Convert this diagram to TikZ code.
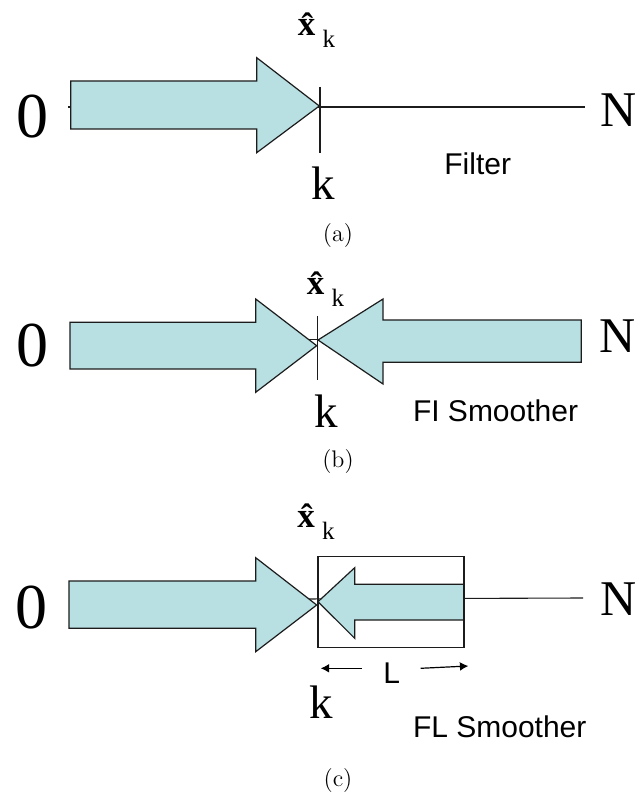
\documentclass[tikz,border=0pt]{standalone}
\usepackage{fontspec}
\newfontfamily\ksserif{Liberation Serif}
\newfontfamily\kssans{Liberation Sans}
\usetikzlibrary{arrows.meta}
\definecolor{ksink}{HTML}{1C1C1C}
\definecolor{ksfill}{HTML}{B8DFE2}
\newcommand{\xhatk}{{\fontsize{17.5}{18}\selectfont\ksserif\bfseries\^x}\hspace{3.6pt}\raisebox{-6pt}{\fontsize{12.5}{13}\selectfont\ksserif k}}
\tikzset{
  ks block/.style={draw=ksink, line width=0.6pt, fill=ksfill, line join=miter},
  ks line/.style={draw=ksink, line width=0.55pt},
  ks dim/.style={draw=black, line width=0.6pt, -{Latex[length=4.2pt,width=4.4pt]}},
  ks zero/.style={inner sep=0pt, anchor=base, font=\fontsize{32}{34}\selectfont\ksserif},
  ks end/.style={inner sep=0pt, anchor=base west, font=\fontsize{25}{27}\selectfont\ksserif},
  ks time/.style={inner sep=0pt, anchor=base, font=\fontsize{23.5}{25}\selectfont\ksserif},
  ks est/.style={inner sep=0pt, anchor=base west},
  ks name/.style={inner sep=0pt, anchor=base west, font=\fontsize{15}{17}\selectfont\kssans},
  ks cap/.style={inner sep=0pt, anchor=base, font=\fontsize{12}{14}\selectfont}
}

\begin{document}
\begin{tikzpicture}[x=0.5pt, y=-0.5pt]
  \useasboundingbox (0,0) rectangle (638,795);

  % (a) filter
  \coordinate (a0) at (68,107);
  \coordinate (aN) at (585,107);
  \draw[ks line] (a0) -- (aN);
  \draw[ks block] (70.7,81) -- (256.7,81) -- (256.7,57.7) -- (319.3,106)
    -- (256.7,152.7) -- (256.7,129) -- (70.7,129) -- cycle;
  \coordinate (ak1) at (320,87);
  \coordinate (ak2) at (320,153);
  \draw[ks line] (ak1) -- (ak2);
  \node[ks zero] (zeroa) at (32.5,138) {0};
  \node[ks end] (Na) at (600.5,127) {N};
  \node[ks est] (xa) at (297.5,36) {\xhatk};
  \node[ks time] (ka) at (323.5,200) {k};
  \node[ks name] (filter) at (444,175) {Filter};
  \node[ks cap] (capa) at (338,242) {(a)};

  % (b) fixed-interval smoother
  \coordinate (b0) at (300,339.5);
  \coordinate (bN) at (581,339.5);
  \draw[ks line] (b0) -- (bN);
  \draw[ks block] (70,322.3) -- (255.7,322.3) -- (255.7,299) -- (316.7,345.7)
    -- (255.7,392.3) -- (255.7,369) -- (70,369) -- cycle;
  \draw[ks block] (581.3,320) -- (383,320) -- (383,299) -- (318,340)
    -- (383,384) -- (383,362.3) -- (581.3,362.3) -- cycle;
  \coordinate (bk1) at (317.3,316);
  \coordinate (bk2) at (317.3,380);
  \draw[ks line] (bk1) -- (bk2);
  \node[ks zero] (zerob) at (32.5,367) {0};
  \node[ks end] (Nb) at (599.5,353) {N};
  \node[ks est] (xb) at (306.5,295) {\xhatk};
  \node[ks time] (kb) at (326,427) {k};
  \node[ks name] (fis) at (412.6,422) {FI Smoother};
  \node[ks cap] (capb) at (338,467) {(b)};

  % (c) fixed-lag smoother
  \coordinate (c0) at (300,599);
  \coordinate (cN) at (583,598);
  \draw[ks line] (c0) -- (cN);
  \draw[ks block] (69,581) -- (255.7,581) -- (255.7,557.7) -- (316.7,605)
    -- (255.7,651.7) -- (255.7,628.3) -- (69,628.3) -- cycle;
  \draw[ks block] (464,584.3) -- (354.7,584.3) -- (354.7,567.7) -- (318,601.7)
    -- (354.7,638.3) -- (354.7,620) -- (464,620) -- cycle;
  \draw[ks line] (318,556.7) rectangle (464,647.7);
  \node[ks zero] (zeroc) at (32,628) {0};
  \node[ks end] (Nc) at (600.5,615) {N};
  \node[ks est] (xc) at (297,527) {\xhatk};
  \node[ks time] (kc) at (321.5,718) {k};
  \node[ks name] (lag) at (383,683) {L};
  \coordinate (lA) at (361.7,668.3);
  \coordinate (lB) at (320.7,668.3);
  \coordinate (lC) at (420.7,668.3);
  \coordinate (lD) at (468.3,666);
  \draw[ks dim] (lA) -- (lB);
  \draw[ks dim] (lC) -- (lD);
  \node[ks name] (fls) at (412.6,737) {FL Smoother};
  \node[ks cap] (capc) at (338,786) {(c)};
\end{tikzpicture}
\end{document}
